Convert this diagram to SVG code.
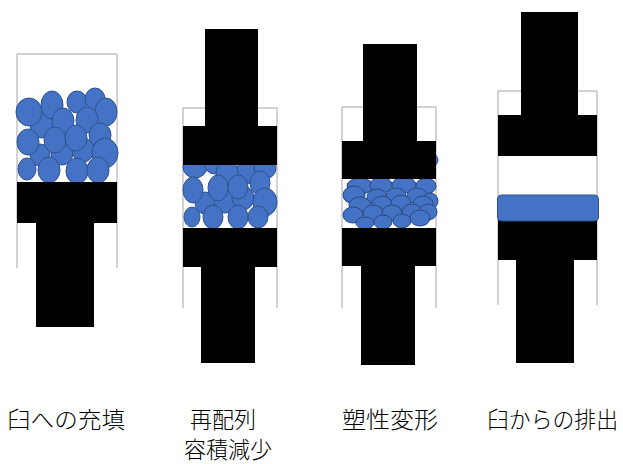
<svg xmlns="http://www.w3.org/2000/svg" width="623" height="464" viewBox="0 0 623 464">
  <style>
    .die { fill: none; stroke: #a6a6a6; stroke-width: 1; }
    .rim { stroke-width: 1.2; }
    .punch { fill: #000; }
    .grain { fill: #4472c4; stroke: #2f528f; stroke-width: 1; }
    .grain.fine { stroke: #2a4a80; }
    .label { font-family: "Noto Sans CJK JP", "Noto Sans", sans-serif; font-size: 22.5px; font-weight: 300; fill: #000; }
  </style>

  <rect width="623" height="464" fill="#fff"/>

  <!-- Stage 1: filling the die -->
  <g id="stage-fill">
    <path class="die" d="M17,268 V54 M117,54 V268"/>
    <path class="die rim" d="M17,54 H117" stroke="#595959"/>
    <g id="grains-fill">
      <ellipse class="grain" cx="42" cy="125" rx="12" ry="13"/>
      <ellipse class="grain" cx="29" cy="112" rx="13" ry="14"/>
      <ellipse class="grain" cx="52" cy="105" rx="11" ry="14"/>
      <ellipse class="grain" cx="77" cy="102" rx="10" ry="11"/>
      <ellipse class="grain" cx="95" cy="99" rx="10" ry="11"/>
      <ellipse class="grain" cx="106" cy="112" rx="11" ry="14"/>
      <ellipse class="grain" cx="63" cy="121" rx="11" ry="13"/>
      <ellipse class="grain" cx="87" cy="120" rx="11" ry="13"/>
      <ellipse class="grain" cx="100" cy="135" rx="11" ry="12"/>
      <ellipse class="grain" cx="40" cy="155" rx="10" ry="11"/>
      <ellipse class="grain" cx="62" cy="153" rx="11" ry="12"/>
      <ellipse class="grain" cx="83" cy="150" rx="11" ry="12"/>
      <ellipse class="grain" cx="28" cy="142" rx="11" ry="13"/>
      <ellipse class="grain" cx="55" cy="140" rx="11" ry="13"/>
      <ellipse class="grain" cx="76" cy="138" rx="11" ry="13"/>
      <ellipse class="grain" cx="105" cy="153" rx="13" ry="15"/>
      <ellipse class="grain" cx="27" cy="169" rx="9" ry="11"/>
      <ellipse class="grain" cx="49" cy="170" rx="11" ry="13"/>
      <ellipse class="grain" cx="77" cy="171" rx="11" ry="13"/>
      <ellipse class="grain" cx="98" cy="170" rx="11" ry="13"/>
    </g>
    <rect class="punch" x="17" y="182" width="100" height="41"/>
    <rect class="punch" x="36" y="222" width="58" height="105"/>
  </g>

  <!-- Stage 2: rearrangement, volume reduction -->
  <g id="stage-rearrange">
    <path class="die" d="M183,308 V108 H277 V308" stroke="#bfbfbf"/>
    <g id="grains-rearrange">
      <ellipse class="grain" cx="195" cy="167" rx="12" ry="11"/>
      <ellipse class="grain" cx="215" cy="163" rx="11" ry="11"/>
      <ellipse class="grain" cx="247" cy="172" rx="11" ry="12"/>
      <ellipse class="grain" cx="265" cy="168" rx="11" ry="11"/>
      <ellipse class="grain" cx="227" cy="173" rx="11" ry="13"/>
      <ellipse class="grain" cx="205" cy="203" rx="10" ry="11"/>
      <ellipse class="grain" cx="225" cy="202" rx="11" ry="11"/>
      <ellipse class="grain" cx="243" cy="198" rx="11" ry="12"/>
      <ellipse class="grain" cx="193" cy="190" rx="10" ry="13"/>
      <ellipse class="grain" cx="218" cy="188" rx="10" ry="13"/>
      <ellipse class="grain" cx="238" cy="187" rx="10" ry="12"/>
      <ellipse class="grain" cx="260" cy="183" rx="10" ry="12"/>
      <ellipse class="grain" cx="265" cy="202" rx="12" ry="14"/>
      <ellipse class="grain" cx="192" cy="217" rx="8" ry="10"/>
      <ellipse class="grain" cx="213" cy="217" rx="10" ry="12"/>
      <ellipse class="grain" cx="238" cy="217" rx="10" ry="12"/>
      <ellipse class="grain" cx="258" cy="217" rx="10" ry="11"/>
    </g>
    <rect class="punch" x="205" y="29" width="53" height="98"/>
    <rect class="punch" x="183" y="126" width="94" height="39"/>
    <rect class="punch" x="183" y="228" width="94" height="39"/>
    <rect class="punch" x="201" y="266" width="54" height="97"/>
  </g>

  <!-- Stage 3: plastic deformation -->
  <g id="stage-deform">
    <path class="die" d="M342,308 V107 M436,107 V308"/>
    <path class="die rim" d="M342,107 H436" stroke="#000"/>
    <g id="grains-deform">
      <ellipse class="grain fine" cx="430" cy="160" rx="8" ry="7"/>
      <ellipse class="grain fine" cx="360" cy="186" rx="13" ry="8"/>
      <ellipse class="grain fine" cx="381" cy="185" rx="11" ry="8"/>
      <ellipse class="grain fine" cx="404" cy="185" rx="12" ry="8"/>
      <ellipse class="grain fine" cx="426" cy="186" rx="10" ry="8"/>
      <ellipse class="grain fine" cx="354" cy="195" rx="11" ry="9"/>
      <ellipse class="grain fine" cx="377" cy="197" rx="10" ry="8"/>
      <ellipse class="grain fine" cx="396" cy="196" rx="10" ry="8"/>
      <ellipse class="grain fine" cx="417" cy="196" rx="10" ry="8"/>
      <ellipse class="grain fine" cx="430" cy="201" rx="8" ry="8"/>
      <ellipse class="grain fine" cx="360" cy="205" rx="11" ry="8"/>
      <ellipse class="grain fine" cx="382" cy="204" rx="10" ry="8"/>
      <ellipse class="grain fine" cx="401" cy="203" rx="10" ry="8"/>
      <ellipse class="grain fine" cx="423" cy="204" rx="10" ry="8"/>
      <ellipse class="grain fine" cx="353" cy="215" rx="10" ry="8"/>
      <ellipse class="grain fine" cx="373" cy="213" rx="10" ry="8"/>
      <ellipse class="grain fine" cx="392" cy="213" rx="10" ry="8"/>
      <ellipse class="grain fine" cx="412" cy="212" rx="10" ry="8"/>
      <ellipse class="grain fine" cx="428" cy="212" rx="9" ry="8"/>
      <ellipse class="grain fine" cx="365" cy="223" rx="9" ry="6"/>
      <ellipse class="grain fine" cx="383" cy="222" rx="9" ry="7"/>
      <ellipse class="grain fine" cx="402" cy="221" rx="9" ry="7"/>
      <ellipse class="grain fine" cx="420" cy="218" rx="10" ry="8"/>
    </g>
    <rect class="punch" x="363" y="44" width="54" height="98"/>
    <rect class="punch" x="342" y="141" width="94" height="38"/>
    <rect class="punch" x="342" y="228" width="94" height="38"/>
    <rect class="punch" x="361" y="265" width="54" height="100"/>
  </g>

  <!-- Stage 4: ejection from the die -->
  <g id="stage-eject">
    <path class="die" d="M498,305 V91 H597 V305" stroke="#8c8c8c"/>
    <rect class="punch" x="521" y="12" width="57" height="104"/>
    <rect class="punch" x="498" y="115" width="99" height="41"/>
    <rect class="punch" x="498" y="220" width="99" height="40"/>
    <rect class="punch" x="516" y="259" width="58" height="104"/>
    <rect id="tablet" class="grain" x="497.5" y="195" width="101" height="26" rx="4"/>
  </g>

  <!-- Stage captions -->
  <g id="captions">
    <text class="label" x="7" y="428" textLength="118" lengthAdjust="spacingAndGlyphs">臼への充填</text>
    <text class="label" x="190" y="428" textLength="66" lengthAdjust="spacingAndGlyphs">再配列</text>
    <text class="label" x="184" y="458" textLength="88" lengthAdjust="spacingAndGlyphs">容積減少</text>
    <text class="label" x="342" y="428" textLength="96" lengthAdjust="spacingAndGlyphs">塑性変形</text>
    <text class="label" x="487" y="428" textLength="131" lengthAdjust="spacingAndGlyphs">臼からの排出</text>
  </g>
</svg>
